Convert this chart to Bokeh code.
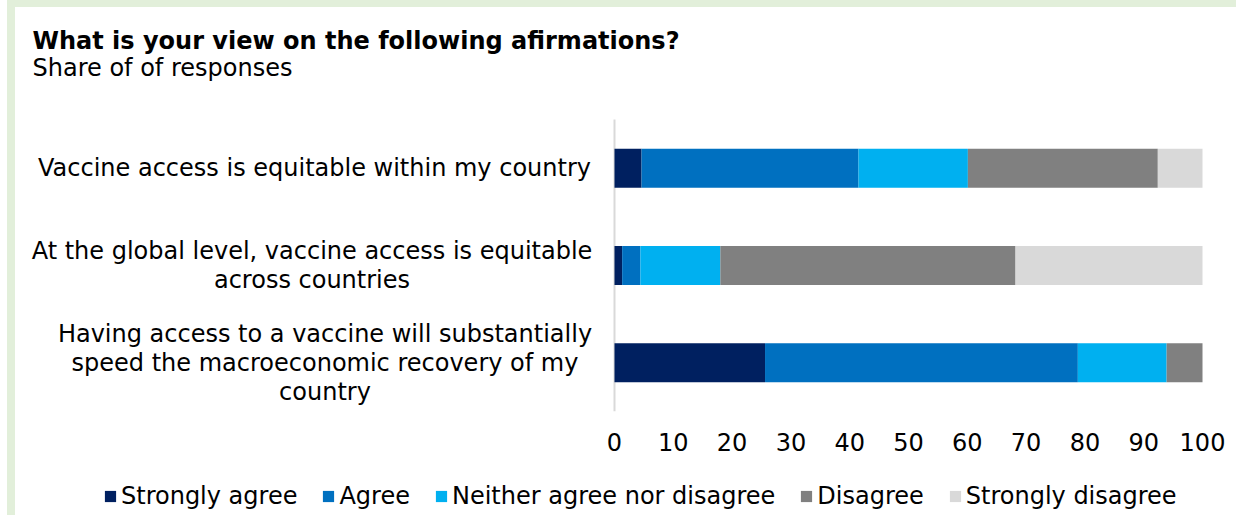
from bokeh.plotting import figure
from bokeh.models import (ColumnDataSource, Range1d, FixedTicker, Label, Div, Legend, LegendItem)
from bokeh.layouts import row, column
from bokeh.embed import file_html
from bokeh.resources import INLINE

# ---- data ----
categories = [
    "Vaccine access is equitable within my country",
    "At the global level, vaccine access is equitable\nacross countries",
    "Having access to a vaccine will substantially\nspeed the macroeconomic recovery of my\ncountry",
]
series_names = ["Strongly agree", "Agree", "Neither agree nor disagree", "Disagree", "Strongly disagree"]
strongly_agree = [4.6, 1.3, 25.6]
agree = [36.9, 3.1, 53.2]
neither = [18.6, 13.6, 15.1]
disagree = [32.3, 50.2, 6.1]
strongly_disagree = [7.6, 31.8, 0.0]
x_ticks = [0, 10, 20, 30, 40, 50, 60, 70, 80, 90, 100]

title_text = "What is your view on the following afirmations?"
subtitle_text = "Share of of responses"

colors = ["#002060", "#0070C0", "#00B0F0", "#808080", "#D9D9D9"]
GREEN = "#E2EFDA"
FONT = "DejaVu Sans"

# ---- geometry (pixels) ----
OX, OY = 15, 7                 # figure origin within the page
W = 1236 - OX                  # figure width
H_MAIN, H_LEG = 463, 45        # main chart / legend strip heights
FRAME_B = 404                  # frame bottom (figure px from top)
X0_PX, PX_PER = 599, 5.88      # x=0 position and pixels per unit
Y0_PX, PY_PER = 404, 97.33     # y=0 position and pixels per unit

n = len(categories)
ypos = [n - 0.5 - i for i in range(n)]

src = ColumnDataSource(dict(
    y=ypos,
    sa=strongly_agree, ag=agree, ne=neither, di=disagree, sd=strongly_disagree,
))

p = figure(width=W, height=H_MAIN, output_backend="svg", toolbar_location=None,
           x_range=Range1d(-X0_PX / PX_PER, (W - X0_PX) / PX_PER),
           y_range=Range1d((Y0_PX - FRAME_B) / PY_PER, Y0_PX / PY_PER),
           y_axis_location=None,
           min_border_left=0, min_border_right=0,
           min_border_top=0, min_border_bottom=H_MAIN - FRAME_B)
p.outline_line_color = None
p.grid.visible = False
p.margin = 0

# vertical axis line
p.segment(x0=[0], y0=[0], x1=[0], y1=[n], line_color="#D9D9D9", line_width=2)

p.hbar_stack(["sa", "ag", "ne", "di", "sd"], y="y", height=0.4, color=colors,
             line_color=None, source=src)

# x axis
xa = p.xaxis[0]
xa.ticker = FixedTicker(ticks=x_ticks)
xa.axis_line_color = None
xa.major_tick_line_color = None
xa.minor_tick_line_color = None
xa.major_tick_out = 0
xa.major_tick_in = 0
xa.minor_tick_out = 0
xa.major_label_standoff = 21
xa.major_label_text_font = FONT
xa.major_label_text_font_size = "24px"
xa.major_label_text_color = "#000000"

frame_h = FRAME_B

def sx(page_x):
    return page_x - OX

def sy(page_y):
    return frame_h - (page_y - OY)

# category labels (centred blocks, right edge near the axis)
line_gap = 29
centers = {1: 314, 2: 311.5, 3: 324.5}
for cat, y in zip(categories, ypos):
    lines = cat.split("\n")
    m = len(lines)
    for k, ln in enumerate(lines):
        p.add_layout(Label(x=sx(centers[m]), y=y, x_units="screen", y_units="data",
                           y_offset=((m - 1) / 2 - k) * line_gap,
                           text=ln, text_align="center", text_baseline="middle",
                           text_font=FONT, text_font_size="24px", text_color="#000000"))

# title & subtitle
p.add_layout(Label(x=sx(32), y=sy(40), x_units="screen", y_units="screen", text=title_text,
                   text_font=FONT, text_font_style="bold", text_font_size="24px",
                   text_baseline="alphabetic", text_color="#000000"))
p.add_layout(Label(x=sx(32), y=sy(67), x_units="screen", y_units="screen", text=subtitle_text,
                   text_font=FONT, text_font_size="24px",
                   text_baseline="alphabetic", text_color="#000000"))

# ---- legend strip (separate figure whose frame is the whole strip) ----
q = figure(width=W, height=H_LEG, output_backend="svg", toolbar_location=None,
           x_range=Range1d(0, 1), y_range=Range1d(0, 1),
           x_axis_location=None, y_axis_location=None,
           min_border_left=0, min_border_right=0, min_border_top=0, min_border_bottom=0)
q.outline_line_color = None
q.grid.visible = False
q.margin = 0
items = []
for name, c in zip(series_names, colors):
    # swatch-only renderer placed outside the visible range
    r = q.hbar(y=[-10], left=[0], right=[1], height=1, fill_color=c, line_color=None)
    items.append(LegendItem(label=name, renderers=[r]))
lg = Legend(items=items, orientation="horizontal", location=(sx(103), 5),
            border_line_color=None, background_fill_alpha=0,
            glyph_width=14, glyph_height=14, label_standoff=4, spacing=24,
            padding=0, margin=0,
            label_text_font=FONT, label_text_font_size="24px", label_text_color="#000000")
q.add_layout(lg)

top_band = Div(width=W, height=OY, margin=0, styles={"background-color": GREEN})
left_band = Div(width=8, height=515, margin=(0, 0, 0, 7), styles={"background-color": GREEN})
layout = row(left_band, column(top_band, p, q, spacing=0), spacing=0)

open("out.html", "w").write(file_html(layout, INLINE))
